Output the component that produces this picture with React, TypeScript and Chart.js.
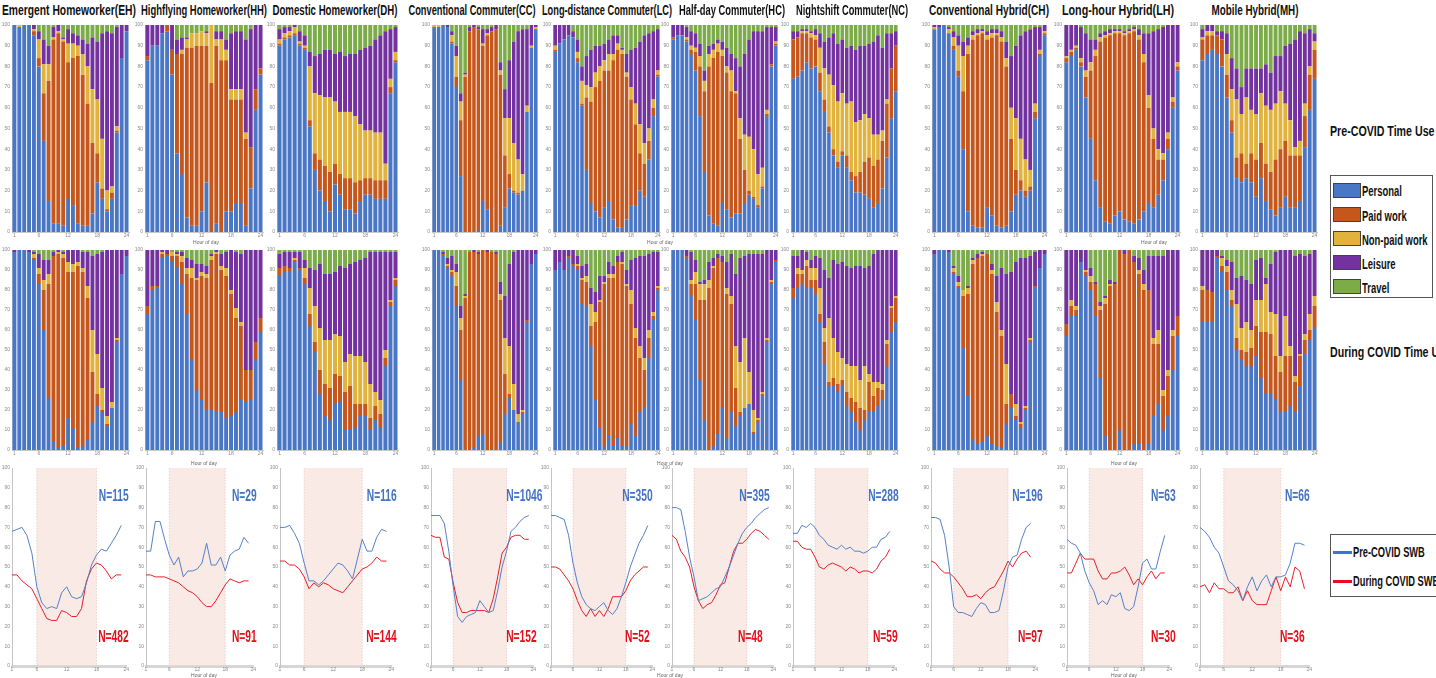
import React, { useEffect, useRef } from 'react';
import { Chart, registerables } from 'chart.js';

Chart.register(...registerables);

// ---------------- DATA ----------------
const HOURS = ['1', '2', '3', '4', '5', '6', '7', '8', '9', '10', '11', '12', '13', '14', '15', '16', '17', '18', '19', '20', '21', '22', '23', '24'];
const HOUR_TICKS = ['1', '6', '12', '18', '24'];
const SWB_HOURS = [1, 2, 3, 4, 5, 6, 7, 8, 9, 10, 11, 12, 13, 14, 15, 16, 17, 18, 19, 20, 21, 22, 23];
const SHADE_FROM = 6;
const SHADE_TO = 18;
const ACTIVITIES = ['Personal', 'Paid work', 'Non-paid work', 'Leisure', 'Travel'];
const GROUPS = [
  'Emergent Homeworker(EH)', 'Highflying Homeworker(HH)', 'Domestic Homeworker(DH)',
  'Conventional Commuter(CC)', 'Long-distance Commuter(LC)', 'Half-day Commuter(HC)', 'Nightshift Commuter(NC)',
  'Conventional Hybrid(CH)', 'Long-hour Hybrid(LH)', 'Mobile Hybrid(MH)',
];
const N_PRE = [115, 29, 116, 1046, 350, 395, 288, 196, 63, 66];
const N_DURING = [482, 91, 144, 152, 52, 48, 59, 97, 30, 36];

// Time use: upper edge (%) of each activity segment per hour (Travel always fills up to 100 %)
const EH_PRE_PERSONAL = [100, 99, 100, 100, 95, 80, 44, 15, 4, 4, 3, 16, 13, 4, 3, 3, 9, 24, 16, 10, 16, 48, 84, 97];
const EH_PRE_PAID = [100, 99, 100, 100, 97, 84, 67, 73, 93, 96, 92, 82, 84, 85, 76, 62, 43, 38, 21, 11, 19, 49, 84, 97];
const EH_PRE_NONPAID = [100, 100, 100, 100, 98, 93, 81, 81, 94, 97, 93, 91, 91, 90, 86, 80, 69, 64, 45, 20, 22, 51, 84, 97];
const EH_PRE_LEISURE = [100, 100, 100, 100, 100, 97, 93, 90, 99, 100, 94, 98, 96, 95, 93, 91, 94, 92, 96, 97, 96, 99, 100, 100];
const EH_DUR_PERSONAL = [99, 100, 100, 99, 95, 83, 60, 26, 4, 1, 2, 16, 11, 1, 2, 5, 14, 22, 19, 12, 21, 54, 88, 97];
const EH_DUR_PAID = [99, 100, 100, 99, 96, 88, 80, 83, 97, 98, 96, 89, 89, 92, 89, 76, 39, 28, 20, 13, 21, 55, 88, 97];
const EH_DUR_NONPAID = [99, 100, 100, 99, 98, 91, 85, 88, 97, 99, 98, 94, 93, 94, 91, 82, 60, 48, 31, 17, 24, 56, 88, 97];
const EH_DUR_LEISURE = [100, 100, 100, 100, 99, 98, 95, 95, 99, 100, 99, 100, 100, 100, 99, 99, 97, 98, 99, 100, 100, 100, 100, 100];

const HH_PRE_PERSONAL = [83, 90, 90, 96, 97, 76, 38, 28, 7, 3, 3, 10, 24, 0, 4, 0, 10, 10, 14, 14, 3, 21, 59, 76];
const HH_PRE_PAID = [85, 90, 90, 96, 100, 88, 86, 86, 89, 89, 90, 90, 90, 72, 90, 83, 83, 64, 64, 64, 45, 41, 69, 79];
const HH_PRE_NONPAID = [85, 90, 90, 96, 100, 88, 86, 88, 93, 96, 96, 97, 96, 100, 93, 93, 88, 69, 69, 69, 48, 41, 69, 79];
const HH_PRE_LEISURE = [100, 100, 100, 100, 100, 100, 93, 94, 94, 96, 96, 97, 97, 100, 97, 97, 93, 96, 97, 97, 93, 98, 100, 100];
const HH_DUR_PERSONAL = [68, 80, 81, 96, 97, 94, 91, 83, 68, 45, 30, 25, 20, 20, 19, 19, 16, 17, 19, 25, 24, 25, 45, 59];
const HH_DUR_PAID = [72, 82, 82, 98, 98, 97, 97, 94, 88, 86, 85, 87, 86, 95, 98, 90, 87, 78, 66, 62, 40, 40, 54, 66];
const HH_DUR_NONPAID = [72, 82, 82, 99, 98, 99, 98, 97, 91, 91, 86, 89, 88, 97, 99, 92, 91, 80, 71, 64, 40, 40, 54, 66];
const HH_DUR_LEISURE = [100, 100, 100, 100, 100, 99, 99, 99, 96, 95, 93, 93, 92, 98, 100, 98, 99, 100, 99, 98, 100, 100, 100, 100];

const DH_PRE_PERSONAL = [90, 93, 94, 95, 90, 88, 51, 30, 20, 15, 10, 23, 18, 11, 11, 9, 15, 18, 18, 16, 16, 16, 67, 82];
const DH_PRE_PAID = [91, 94, 95, 96, 91, 89, 54, 38, 35, 32, 29, 33, 28, 26, 26, 24, 25, 26, 26, 25, 25, 25, 70, 83];
const DH_PRE_NONPAID = [93, 96, 97, 99, 92, 90, 80, 67, 66, 65, 65, 63, 58, 58, 58, 56, 52, 49, 49, 48, 48, 33, 74, 87];
const DH_PRE_LEISURE = [98, 99, 99, 100, 97, 95, 87, 85, 86, 88, 88, 86, 87, 85, 86, 86, 88, 89, 90, 93, 95, 97, 98, 99];
const DH_DUR_PERSONAL = [87, 89, 89, 94, 90, 83, 62, 49, 28, 17, 15, 23, 24, 10, 10, 11, 17, 17, 10, 15, 11, 42, 72, 82];
const DH_DUR_PAID = [91, 92, 91, 95, 91, 86, 68, 54, 40, 33, 31, 38, 37, 29, 32, 23, 23, 23, 16, 22, 18, 46, 74, 85];
const DH_DUR_NONPAID = [91, 92, 91, 96, 91, 91, 81, 72, 61, 55, 55, 58, 57, 44, 48, 47, 47, 44, 33, 29, 25, 50, 75, 86];
const DH_DUR_LEISURE = [98, 99, 99, 99, 99, 95, 91, 90, 93, 88, 88, 89, 92, 91, 93, 94, 95, 96, 99, 99, 99, 99, 99, 99];

const CC_PRE_PERSONAL = [99, 99, 100, 99, 91, 70, 27, 0, 0, 0, 1, 15, 11, 0, 0, 3, 12, 21, 19, 18, 20, 58, 89, 98];
const CC_PRE_PAID = [99, 99, 100, 99, 92, 75, 54, 75, 97, 99, 98, 90, 95, 97, 98, 76, 37, 28, 20, 19, 20, 58, 89, 98];
const CC_PRE_NONPAID = [100, 100, 100, 99, 95, 85, 63, 76, 97, 99, 98, 91, 96, 97, 98, 78, 55, 55, 43, 35, 28, 61, 90, 99];
const CC_PRE_LEISURE = [100, 100, 100, 100, 97, 90, 67, 77, 99, 100, 99, 98, 98, 99, 100, 82, 69, 83, 92, 97, 98, 98, 100, 100];
const CC_DUR_PERSONAL = [100, 100, 97, 91, 87, 72, 35, 0, 0, 1, 7, 8, 0, 0, 0, 4, 18, 26, 20, 14, 18, 64, 93, 98];
const CC_DUR_PAID = [100, 100, 98, 92, 89, 82, 60, 76, 99, 99, 98, 100, 99, 99, 98, 75, 38, 28, 20, 14, 19, 65, 93, 98];
const CC_DUR_NONPAID = [100, 100, 98, 93, 90, 89, 66, 77, 99, 99, 98, 100, 99, 99, 98, 78, 56, 52, 33, 18, 20, 65, 93, 98];
const CC_DUR_LEISURE = [100, 100, 99, 96, 97, 93, 72, 78, 99, 100, 99, 100, 100, 99, 99, 84, 77, 93, 99, 100, 100, 100, 100, 100];

const LC_PRE_PERSONAL = [87, 91, 93, 95, 94, 82, 61, 30, 14, 10, 7, 12, 15, 6, 2, 2, 6, 13, 13, 20, 17, 35, 56, 75];
const LC_PRE_PAID = [88, 91, 93, 95, 94, 84, 62, 65, 63, 70, 73, 78, 78, 83, 88, 86, 75, 64, 52, 38, 33, 44, 60, 76];
const LC_PRE_NONPAID = [90, 91, 93, 95, 94, 87, 73, 71, 70, 77, 80, 83, 86, 86, 91, 88, 77, 70, 62, 52, 43, 50, 64, 78];
const LC_PRE_LEISURE = [100, 100, 100, 100, 97, 93, 80, 85, 88, 90, 90, 91, 93, 95, 95, 89, 86, 88, 89, 92, 95, 96, 97, 98];
const LC_DUR_PERSONAL = [90, 94, 90, 96, 92, 90, 73, 72, 52, 25, 11, 2, 7, 2, 6, 2, 2, 13, 7, 19, 21, 46, 65, 80];
const LC_DUR_PAID = [90, 94, 90, 97, 93, 92, 85, 84, 62, 64, 74, 83, 86, 86, 94, 93, 82, 73, 56, 46, 40, 56, 67, 81];
const LC_DUR_NONPAID = [90, 94, 90, 97, 93, 93, 86, 87, 73, 69, 75, 84, 88, 88, 94, 94, 83, 80, 61, 52, 46, 60, 69, 82];
const LC_DUR_LEISURE = [100, 100, 100, 100, 100, 97, 92, 93, 81, 79, 87, 87, 94, 92, 97, 99, 90, 95, 96, 97, 97, 98, 99, 99];

const HC_PRE_PERSONAL = [93, 95, 95, 92, 86, 78, 56, 29, 8, 4, 3, 14, 11, 7, 9, 9, 14, 18, 16, 12, 21, 56, 80, 90];
const HC_PRE_PAID = [94, 95, 95, 93, 88, 87, 80, 68, 80, 84, 87, 85, 77, 68, 67, 45, 30, 20, 17, 13, 22, 57, 81, 91];
const HC_PRE_NONPAID = [94, 95, 95, 94, 90, 89, 85, 73, 86, 88, 91, 88, 80, 78, 68, 55, 47, 46, 40, 28, 31, 59, 81, 92];
const HC_PRE_LEISURE = [100, 100, 100, 99, 97, 96, 91, 78, 90, 91, 93, 92, 89, 86, 84, 80, 86, 93, 97, 97, 97, 99, 99, 99];
const HC_DUR_PERSONAL = [100, 100, 100, 96, 77, 65, 35, 15, 0, 2, 8, 21, 6, 19, 12, 17, 21, 23, 8, 14, 27, 54, 83, 94];
const HC_DUR_PAID = [100, 100, 100, 97, 83, 83, 75, 75, 81, 91, 96, 94, 78, 73, 31, 19, 21, 23, 9, 15, 28, 55, 84, 95];
const HC_DUR_NONPAID = [100, 100, 100, 97, 85, 89, 83, 83, 85, 92, 96, 94, 81, 77, 52, 44, 56, 39, 20, 16, 29, 56, 85, 95];
const HC_DUR_LEISURE = [100, 100, 100, 100, 99, 95, 84, 85, 94, 96, 98, 97, 94, 98, 88, 96, 97, 98, 98, 98, 98, 100, 100, 100];

const NC_PRE_PERSONAL = [74, 75, 78, 82, 79, 80, 68, 58, 48, 37, 31, 37, 31, 25, 19, 19, 18, 16, 12, 14, 21, 36, 55, 68];
const NC_PRE_PAID = [93, 94, 96, 96, 94, 93, 77, 64, 51, 40, 34, 39, 37, 29, 27, 29, 34, 36, 32, 35, 44, 62, 79, 90];
const NC_PRE_NONPAID = [93, 94, 97, 97, 96, 95, 89, 79, 76, 71, 63, 67, 62, 63, 53, 54, 57, 55, 47, 47, 49, 64, 79, 90];
const NC_PRE_LEISURE = [97, 97, 98, 98, 97, 98, 96, 92, 94, 96, 91, 93, 89, 90, 88, 90, 90, 91, 92, 95, 89, 96, 96, 97];
const NC_DUR_PERSONAL = [76, 81, 83, 81, 81, 78, 64, 43, 32, 32, 29, 32, 22, 19, 14, 10, 15, 19, 19, 22, 25, 42, 59, 64];
const NC_DUR_PAID = [81, 88, 88, 92, 85, 85, 68, 54, 34, 36, 33, 35, 29, 26, 24, 21, 20, 34, 27, 31, 30, 53, 71, 76];
const NC_DUR_NONPAID = [81, 91, 90, 95, 91, 91, 81, 61, 66, 56, 49, 46, 43, 42, 42, 35, 42, 38, 34, 34, 33, 55, 72, 77];
const NC_DUR_LEISURE = [97, 97, 100, 99, 95, 97, 96, 90, 86, 95, 93, 94, 92, 91, 92, 92, 91, 92, 98, 100, 100, 100, 100, 100];

const CH_PRE_PERSONAL = [98, 99, 100, 96, 88, 75, 40, 10, 3, 2, 2, 12, 8, 3, 2, 3, 10, 18, 20, 17, 20, 55, 85, 95];
const CH_PRE_PAID = [98, 99, 100, 96, 90, 78, 68, 86, 93, 95, 96, 93, 94, 95, 92, 80, 45, 30, 25, 20, 22, 58, 86, 96];
const CH_PRE_NONPAID = [99, 99, 100, 98, 94, 90, 85, 90, 95, 96, 97, 95, 96, 96, 94, 84, 60, 55, 45, 35, 30, 62, 88, 97];
const CH_PRE_LEISURE = [100, 100, 100, 99, 97, 95, 92, 94, 97, 98, 98, 97, 98, 98, 97, 92, 85, 90, 95, 97, 98, 99, 99, 100];
const CH_DUR_PERSONAL = [98, 100, 100, 99, 88, 81, 51, 27, 5, 3, 4, 7, 3, 2, 1, 13, 21, 15, 11, 20, 54, 81, 91, 98];
const CH_DUR_PAID = [98, 100, 100, 99, 89, 82, 77, 78, 93, 96, 97, 98, 88, 69, 57, 23, 28, 17, 13, 21, 55, 82, 91, 98];
const CH_DUR_NONPAID = [98, 100, 100, 99, 91, 84, 80, 81, 95, 96, 98, 98, 90, 74, 60, 43, 28, 23, 14, 22, 56, 82, 91, 98];
const CH_DUR_LEISURE = [100, 100, 100, 100, 92, 87, 80, 82, 96, 98, 99, 98, 93, 87, 91, 88, 89, 94, 96, 96, 97, 99, 100, 100];

const LH_PRE_PERSONAL = [82, 85, 88, 80, 65, 45, 25, 12, 5, 4, 8, 10, 6, 5, 4, 6, 10, 14, 12, 18, 25, 40, 60, 78];
const LH_PRE_PAID = [84, 87, 89, 82, 75, 78, 85, 92, 94, 95, 96, 96, 95, 96, 97, 93, 82, 60, 45, 35, 35, 45, 63, 80];
const LH_PRE_NONPAID = [85, 88, 90, 84, 78, 82, 88, 94, 95, 96, 97, 97, 96, 97, 98, 95, 86, 66, 50, 40, 38, 48, 65, 82];
const LH_PRE_LEISURE = [100, 100, 100, 99, 96, 93, 93, 96, 97, 98, 98, 98, 97, 98, 99, 98, 96, 96, 97, 98, 99, 100, 100, 100];
const LH_DUR_PERSONAL = [57, 67, 67, 94, 87, 80, 67, 36, 7, 0, 0, 10, 0, 0, 3, 3, 0, 3, 17, 23, 10, 17, 40, 57];
const LH_DUR_PAID = [63, 72, 70, 94, 89, 84, 83, 70, 73, 82, 83, 100, 98, 100, 94, 88, 80, 80, 53, 53, 27, 37, 57, 67];
const LH_DUR_NONPAID = [63, 75, 72, 94, 90, 87, 83, 72, 76, 83, 83, 100, 98, 100, 94, 90, 83, 80, 56, 60, 30, 40, 60, 67];
const LH_DUR_LEISURE = [100, 100, 100, 100, 100, 91, 84, 74, 77, 85, 84, 100, 100, 100, 97, 96, 90, 97, 97, 97, 97, 100, 100, 100];

const MH_PRE_PERSONAL = [83, 86, 88, 86, 80, 65, 48, 26, 24, 26, 24, 17, 26, 15, 11, 8, 12, 17, 12, 12, 15, 41, 59, 74];
const MH_PRE_PAID = [93, 95, 95, 95, 93, 76, 54, 36, 38, 33, 38, 35, 43, 33, 29, 35, 40, 44, 37, 37, 37, 56, 76, 88];
const MH_PRE_NONPAID = [94, 97, 97, 95, 93, 86, 69, 64, 57, 65, 59, 57, 67, 61, 59, 62, 68, 62, 54, 41, 44, 62, 80, 92];
const MH_PRE_LEISURE = [98, 100, 100, 97, 97, 96, 84, 79, 70, 79, 79, 79, 79, 81, 77, 85, 85, 90, 91, 93, 97, 96, 98, 96];
const MH_DUR_PERSONAL = [64, 64, 64, 96, 89, 80, 72, 50, 45, 42, 42, 47, 36, 28, 28, 25, 19, 19, 22, 19, 32, 48, 55, 61];
const MH_DUR_PAID = [80, 80, 79, 97, 92, 89, 75, 56, 50, 49, 51, 62, 59, 59, 58, 47, 39, 47, 47, 34, 47, 55, 60, 72];
const MH_DUR_NONPAID = [82, 80, 79, 97, 96, 92, 80, 73, 61, 64, 60, 75, 75, 83, 69, 68, 47, 67, 52, 37, 48, 58, 68, 77];
const MH_DUR_LEISURE = [100, 100, 100, 100, 97, 95, 94, 86, 87, 85, 83, 95, 96, 86, 93, 99, 100, 100, 100, 97, 98, 97, 98, 100];

// Subjective well-being (%) by hour
const EH_SWB_PRE = [68, 69, 70, 66, 57, 40, 32, 29, 30, 29, 37, 40, 35, 34, 35, 42, 51, 56, 59, 58, 62, 66, 71];
const EH_SWB_DUR = [46, 46, 43, 41, 39, 34, 29, 24, 23, 23, 28, 27, 25, 25, 29, 43, 49, 52, 51, 48, 44, 46, 46];
const HH_SWB_PRE = [58, 58, 73, 73, 64, 56, 51, 55, 45, 48, 48, 49, 52, 62, 51, 51, 55, 48, 56, 58, 59, 65, 62];
const HH_SWB_DUR = [46, 46, 45, 45, 45, 44, 43, 42, 40, 38, 37, 35, 32, 30, 30, 33, 37, 41, 44, 43, 42, 43, 43];
const DH_SWB_PRE = [70, 70, 71, 67, 62, 52, 43, 43, 41, 43, 46, 49, 52, 51, 48, 44, 54, 64, 58, 58, 65, 69, 68];
const DH_SWB_DUR = [53, 53, 51, 51, 49, 45, 39, 42, 40, 42, 41, 39, 38, 37, 40, 43, 46, 49, 50, 52, 55, 53, 53];
const CC_SWB_PRE = [76, 76, 76, 72, 58, 40, 25, 22, 25, 26, 27, 33, 30, 27, 28, 38, 50, 58, 68, 70, 73, 75, 76];
const CC_SWB_DUR = [66, 65, 65, 55, 54, 42, 32, 27, 27, 28, 28, 28, 28, 27, 34, 45, 57, 60, 65, 66, 66, 64, 64];
const LC_SWB_PRE = [76, 76, 75, 74, 66, 52, 42, 35, 31, 29, 28, 30, 32, 28, 26, 29, 35, 42, 50, 56, 62, 66, 71];
const LC_SWB_DUR = [50, 50, 49, 46, 43, 39, 33, 28, 25, 29, 25, 28, 25, 29, 35, 35, 35, 38, 43, 46, 48, 50, 50];
const HC_SWB_PRE = [80, 80, 79, 68, 55, 45, 33, 34, 35, 37, 39, 40, 45, 50, 56, 62, 67, 70, 72, 75, 77, 79, 80];
const HC_SWB_DUR = [66, 64, 58, 55, 50, 40, 33, 29, 31, 32, 36, 41, 42, 50, 58, 62, 62, 64, 67, 69, 68, 66, 64];
const NC_SWB_PRE = [67, 67, 71, 70, 72, 70, 66, 64, 61, 60, 59, 61, 59, 60, 58, 58, 57, 58, 60, 60, 64, 65, 68];
const NC_SWB_DUR = [63, 63, 60, 59, 59, 55, 50, 49, 51, 52, 51, 50, 48, 50, 49, 47, 48, 48, 47, 49, 53, 55, 59];
const CH_SWB_PRE = [75, 75, 74, 66, 50, 30, 27, 27, 26, 25, 29, 32, 31, 27, 27, 28, 38, 50, 55, 56, 64, 70, 72];
const CH_SWB_DUR = [53, 52, 49, 47, 47, 45, 42, 39, 35, 35, 36, 34, 37, 39, 40, 44, 48, 53, 50, 54, 57, 58, 55];
const LH_SWB_PRE = [64, 62, 61, 57, 48, 42, 38, 31, 33, 31, 36, 35, 37, 29, 28, 30, 40, 52, 54, 49, 49, 58, 66];
const LH_SWB_DUR = [47, 47, 52, 57, 54, 54, 54, 48, 44, 44, 47, 47, 48, 50, 46, 41, 44, 41, 45, 48, 44, 47, 47];
const MH_SWB_PRE = [70, 68, 65, 60, 57, 50, 43, 41, 38, 33, 40, 45, 38, 43, 46, 40, 45, 45, 46, 52, 62, 62, 61];
const MH_SWB_DUR = [40, 41, 37, 42, 39, 39, 37, 37, 40, 33, 38, 33, 31, 31, 31, 38, 45, 38, 45, 40, 50, 48, 39];

const PRE_TOPS = [
  [EH_PRE_PERSONAL, EH_PRE_PAID, EH_PRE_NONPAID, EH_PRE_LEISURE],
  [HH_PRE_PERSONAL, HH_PRE_PAID, HH_PRE_NONPAID, HH_PRE_LEISURE],
  [DH_PRE_PERSONAL, DH_PRE_PAID, DH_PRE_NONPAID, DH_PRE_LEISURE],
  [CC_PRE_PERSONAL, CC_PRE_PAID, CC_PRE_NONPAID, CC_PRE_LEISURE],
  [LC_PRE_PERSONAL, LC_PRE_PAID, LC_PRE_NONPAID, LC_PRE_LEISURE],
  [HC_PRE_PERSONAL, HC_PRE_PAID, HC_PRE_NONPAID, HC_PRE_LEISURE],
  [NC_PRE_PERSONAL, NC_PRE_PAID, NC_PRE_NONPAID, NC_PRE_LEISURE],
  [CH_PRE_PERSONAL, CH_PRE_PAID, CH_PRE_NONPAID, CH_PRE_LEISURE],
  [LH_PRE_PERSONAL, LH_PRE_PAID, LH_PRE_NONPAID, LH_PRE_LEISURE],
  [MH_PRE_PERSONAL, MH_PRE_PAID, MH_PRE_NONPAID, MH_PRE_LEISURE],
];
const DUR_TOPS = [
  [EH_DUR_PERSONAL, EH_DUR_PAID, EH_DUR_NONPAID, EH_DUR_LEISURE],
  [HH_DUR_PERSONAL, HH_DUR_PAID, HH_DUR_NONPAID, HH_DUR_LEISURE],
  [DH_DUR_PERSONAL, DH_DUR_PAID, DH_DUR_NONPAID, DH_DUR_LEISURE],
  [CC_DUR_PERSONAL, CC_DUR_PAID, CC_DUR_NONPAID, CC_DUR_LEISURE],
  [LC_DUR_PERSONAL, LC_DUR_PAID, LC_DUR_NONPAID, LC_DUR_LEISURE],
  [HC_DUR_PERSONAL, HC_DUR_PAID, HC_DUR_NONPAID, HC_DUR_LEISURE],
  [NC_DUR_PERSONAL, NC_DUR_PAID, NC_DUR_NONPAID, NC_DUR_LEISURE],
  [CH_DUR_PERSONAL, CH_DUR_PAID, CH_DUR_NONPAID, CH_DUR_LEISURE],
  [LH_DUR_PERSONAL, LH_DUR_PAID, LH_DUR_NONPAID, LH_DUR_LEISURE],
  [MH_DUR_PERSONAL, MH_DUR_PAID, MH_DUR_NONPAID, MH_DUR_LEISURE],
];
const SWB_PRE = [EH_SWB_PRE, HH_SWB_PRE, DH_SWB_PRE, CC_SWB_PRE, LC_SWB_PRE, HC_SWB_PRE, NC_SWB_PRE, CH_SWB_PRE, LH_SWB_PRE, MH_SWB_PRE];
const SWB_DUR = [EH_SWB_DUR, HH_SWB_DUR, DH_SWB_DUR, CC_SWB_DUR, LC_SWB_DUR, HC_SWB_DUR, NC_SWB_DUR, CH_SWB_DUR, LH_SWB_DUR, MH_SWB_DUR];

// ---------------- STYLE / LAYOUT ----------------
const W = 1436;
const H = 678;
const ACT_COLORS = ['#4a76c6', '#c5561c', '#e2b33c', '#7432a0', '#7bac48'];
const BLUE = '#4472c4';
const RED = '#e3101a';
const FONT = '"Liberation Sans", Arial, sans-serif';
const BAR_X = [[12, 129], [145, 263], [277, 398], [432, 538], [553, 660], [671, 778], [791, 898], [932, 1047], [1064, 1180], [1200, 1317]];
const LINE_X = [[12, 127], [146, 254], [280, 392], [431, 534], [551, 653], [672, 774], [793, 895], [931, 1036], [1067, 1170], [1200, 1310]];
const ROW_PRE = [23, 232];
const ROW_DUR = [248, 450];
const ROW_SWB = [466, 666];
const TITLE_CX = [69, 204, 335, 472, 607, 732, 852, 989, 1118, 1255];
const TITLE_W = [134, 126, 125, 127, 130, 106, 112, 120, 112, 87];
const NPRE_RIGHT = [129, 257, 397, 542, 653, 770, 899, 1043, 1176, 1310];
const NDUR_RIGHT = [129, 257, 397, 537, 650, 763, 898, 1043, 1176, 1305];
const YAX = 11;
const XAX = 9;
const PADT = 3;
const PADR = 3;
const TICK_FONT = { size: 5, family: FONT };
const TICK_COLOR = '#8a8a8a';

function axisOptions(xExtra: any) {
  return {
    x: {
      ...xExtra,
      grid: { display: false, drawTicks: false },
      ticks: { ...(xExtra.ticks || {}), font: TICK_FONT, color: TICK_COLOR, padding: 1, maxRotation: 0, autoSkip: false },
      afterFit: (s: any) => { s.height = XAX; },
    },
    y: {
      min: 0,
      max: 100,
      grid: { display: false, drawTicks: false },
      border: { color: '#c4c4c4', width: 1 },
      ticks: { stepSize: 10, font: TICK_FONT, color: TICK_COLOR, padding: 2 },
      afterFit: (s: any) => { s.width = YAX; },
    },
  };
}

function barConfig(tops: number[][]) {
  const datasets = ACTIVITIES.map((name, s) => ({
    label: name,
    data: HOURS.map((_, i) => [s === 0 ? 0 : tops[s - 1][i], s === 4 ? 100 : tops[s][i]]),
    backgroundColor: ACT_COLORS[s],
    borderWidth: 0,
    grouped: false,
    barPercentage: 0.8,
    categoryPercentage: 1,
  }));
  return {
    type: 'bar',
    data: { labels: HOURS, datasets },
    options: {
      animation: false,
      responsive: false,
      layout: { padding: { top: PADT, right: PADR, left: 0, bottom: 0 } },
      plugins: { legend: { display: false }, tooltip: { enabled: false } },
      scales: axisOptions({
        type: 'category',
        border: { color: '#c8c8c8', width: 1 },
        ticks: { callback: (_v: any, i: number) => (HOUR_TICKS.includes(HOURS[i]) ? HOURS[i] : '') },
      }),
    },
  };
}

const shadePlugin = {
  id: 'shade',
  beforeDatasetsDraw(chart: any) {
    const { ctx, chartArea, scales } = chart;
    const x0 = scales.x.getPixelForValue(SHADE_FROM);
    const x1 = scales.x.getPixelForValue(SHADE_TO);
    ctx.save();
    ctx.fillStyle = 'rgba(244, 214, 204, 0.5)';
    ctx.fillRect(x0, chartArea.top, x1 - x0, chartArea.bottom - chartArea.top);
    ctx.strokeStyle = 'rgba(222, 170, 160, 0.8)';
    ctx.lineWidth = 0.6;
    ctx.setLineDash([1.5, 1.5]);
    ctx.beginPath();
    ctx.moveTo(x0, chartArea.top); ctx.lineTo(x0, chartArea.bottom);
    ctx.moveTo(x1, chartArea.top); ctx.lineTo(x1, chartArea.bottom);
    ctx.stroke();
    ctx.restore();
  },
};

function lineConfig(pre: number[], dur: number[]) {
  return {
    type: 'line',
    data: {
      datasets: [
        { label: 'Pre-COVID SWB', data: SWB_HOURS.map((h, i) => ({ x: h, y: pre[i] })), borderColor: '#5580ca', borderWidth: 1, pointRadius: 0, tension: 0 },
        { label: 'During COVID SWB', data: SWB_HOURS.map((h, i) => ({ x: h, y: dur[i] })), borderColor: '#e5202a', borderWidth: 1, pointRadius: 0, tension: 0 },
      ],
    },
    options: {
      animation: false,
      responsive: false,
      layout: { padding: { top: PADT, right: PADR, left: 0, bottom: 0 } },
      plugins: { legend: { display: false }, tooltip: { enabled: false } },
      scales: axisOptions({
        type: 'linear',
        min: 1,
        max: 24,
        border: { color: '#d6d6d6', width: 3 },
        afterBuildTicks: (s: any) => { s.ticks = HOUR_TICKS.map((t) => ({ value: Number(t) })); },
      }),
    },
    plugins: [shadePlugin],
  };
}

function ChartBox({ x0, x1, y0, y1, make }: { x0: number; x1: number; y0: number; y1: number; make: () => any }) {
  const ref = useRef<HTMLCanvasElement>(null);
  const w = x1 - x0 + YAX + PADR;
  const h = y1 - y0 + PADT + XAX;
  useEffect(() => {
    const chart = new Chart(ref.current as HTMLCanvasElement, make());
    return () => chart.destroy();
  }, []);
  return (
    <div style={{ position: 'absolute', left: x0 - YAX, top: y0 - PADT, width: w, height: h }}>
      <canvas ref={ref} width={w} height={h} style={{ width: w, height: h, display: 'block' }} />
    </div>
  );
}

let measureCtx: CanvasRenderingContext2D | null = null;
function textWidth(text: string, size: number, weight: number) {
  if (!measureCtx) measureCtx = document.createElement('canvas').getContext('2d');
  if (!measureCtx) return text.length * size * 0.55;
  measureCtx.font = `${weight} ${size}px ${FONT}`;
  return measureCtx.measureText(text).width;
}

function Label({ text, x, baseline, size, sx, fit, color = '#111', align = 'left', weight = 700 }:
  { text: string; x: number; baseline: number; size: number; sx?: number; fit?: number; color?: string; align?: 'left' | 'right' | 'center'; weight?: number }) {
  const scale = fit ? fit / textWidth(text, size, weight) : (sx ?? 1);
  const top = baseline - 0.8465 * size;
  const base: React.CSSProperties = {
    position: 'absolute', top, fontFamily: FONT, fontWeight: weight, fontSize: size, lineHeight: `${size}px`,
    whiteSpace: 'nowrap', color,
  };
  if (align === 'left') {
    return <div style={{ ...base, left: x, transform: `scaleX(${scale})`, transformOrigin: 'left top' }}>{text}</div>;
  }
  if (align === 'right') {
    return <div style={{ ...base, right: W - x, transform: `scaleX(${scale})`, transformOrigin: 'right top' }}>{text}</div>;
  }
  return <div style={{ ...base, left: x, transform: `translateX(-50%) scaleX(${scale})`, transformOrigin: 'center top' }}>{text}</div>;
}

export default function App() {
  const legendTop = [183, 207, 231, 255, 279];
  const legendBase = [196, 220.5, 244.5, 268.5, 292.5];
  return (
    <div style={{ position: 'fixed', left: 0, top: 0, width: W, height: H, overflow: 'hidden', background: '#fff' }}>
      {GROUPS.map((g, c) => (
        <React.Fragment key={g}>
          <ChartBox x0={BAR_X[c][0]} x1={BAR_X[c][1]} y0={ROW_PRE[0]} y1={ROW_PRE[1]} make={() => barConfig(PRE_TOPS[c])} />
          <ChartBox x0={BAR_X[c][0]} x1={BAR_X[c][1]} y0={ROW_DUR[0]} y1={ROW_DUR[1]} make={() => barConfig(DUR_TOPS[c])} />
          <ChartBox x0={LINE_X[c][0]} x1={LINE_X[c][1]} y0={ROW_SWB[0]} y1={ROW_SWB[1]} make={() => lineConfig(SWB_PRE[c], SWB_DUR[c])} />
        </React.Fragment>
      ))}
      {GROUPS.map((g, c) => (
        <React.Fragment key={'t' + g}>
          <Label text={g} x={TITLE_CX[c]} baseline={15} size={14} fit={TITLE_W[c]} align="center" />
          <Label text={`N=${N_PRE[c]}`} x={NPRE_RIGHT[c]} baseline={502} size={16} sx={0.64} color={BLUE} align="right" />
          <Label text={`N=${N_DURING[c]}`} x={NDUR_RIGHT[c]} baseline={643} size={16} sx={0.64} color={RED} align="right" />
        </React.Fragment>
      ))}

      {[206, 660, 1154].map((cx) => (
        <Label key={'h1' + cx} text="Hour of day" x={cx} baseline={244} size={5} sx={1} color="#666" align="center" weight={400} />
      ))}
      {[204, 670, 1124].map((cx) => (
        <Label key={'h2' + cx} text="Hour of day" x={cx} baseline={465} size={5} sx={1} color="#666" align="center" weight={400} />
      ))}
      {[204, 670, 1124].map((cx) => (
        <Label key={'h3' + cx} text="Hour of day" x={cx} baseline={677} size={5} sx={1} color="#666" align="center" weight={400} />
      ))}

      <Label text="Pre-COVID Time Use" x={1330} baseline={136} size={14} sx={0.76} />
      <Label text="During COVID Time Use" x={1330} baseline={357} size={14} sx={0.76} />

      <div style={{ position: 'absolute', left: 1330, top: 175, width: 101, height: 121, border: '1px solid #555' }} />
      {ACTIVITIES.map((a, i) => (
        <React.Fragment key={a}>
          <div style={{ position: 'absolute', left: 1333, top: legendTop[i], width: 26, height: 13, background: ACT_COLORS[i], border: '1px solid #444' }} />
          <Label text={a} x={1362} baseline={legendBase[i]} size={15} sx={0.63} />
        </React.Fragment>
      ))}

      <div style={{ position: 'absolute', left: 1330, top: 534, width: 120, height: 61, border: '1px solid #555' }} />
      <div style={{ position: 'absolute', left: 1333, top: 551, width: 19, height: 3, background: BLUE }} />
      <div style={{ position: 'absolute', left: 1333, top: 580, width: 19, height: 3, background: RED }} />
      <Label text="Pre-COVID SWB" x={1353} baseline={557} size={15} sx={0.62} />
      <Label text="During COVID SWB" x={1353} baseline={586} size={15} sx={0.62} />
    </div>
  );
}
